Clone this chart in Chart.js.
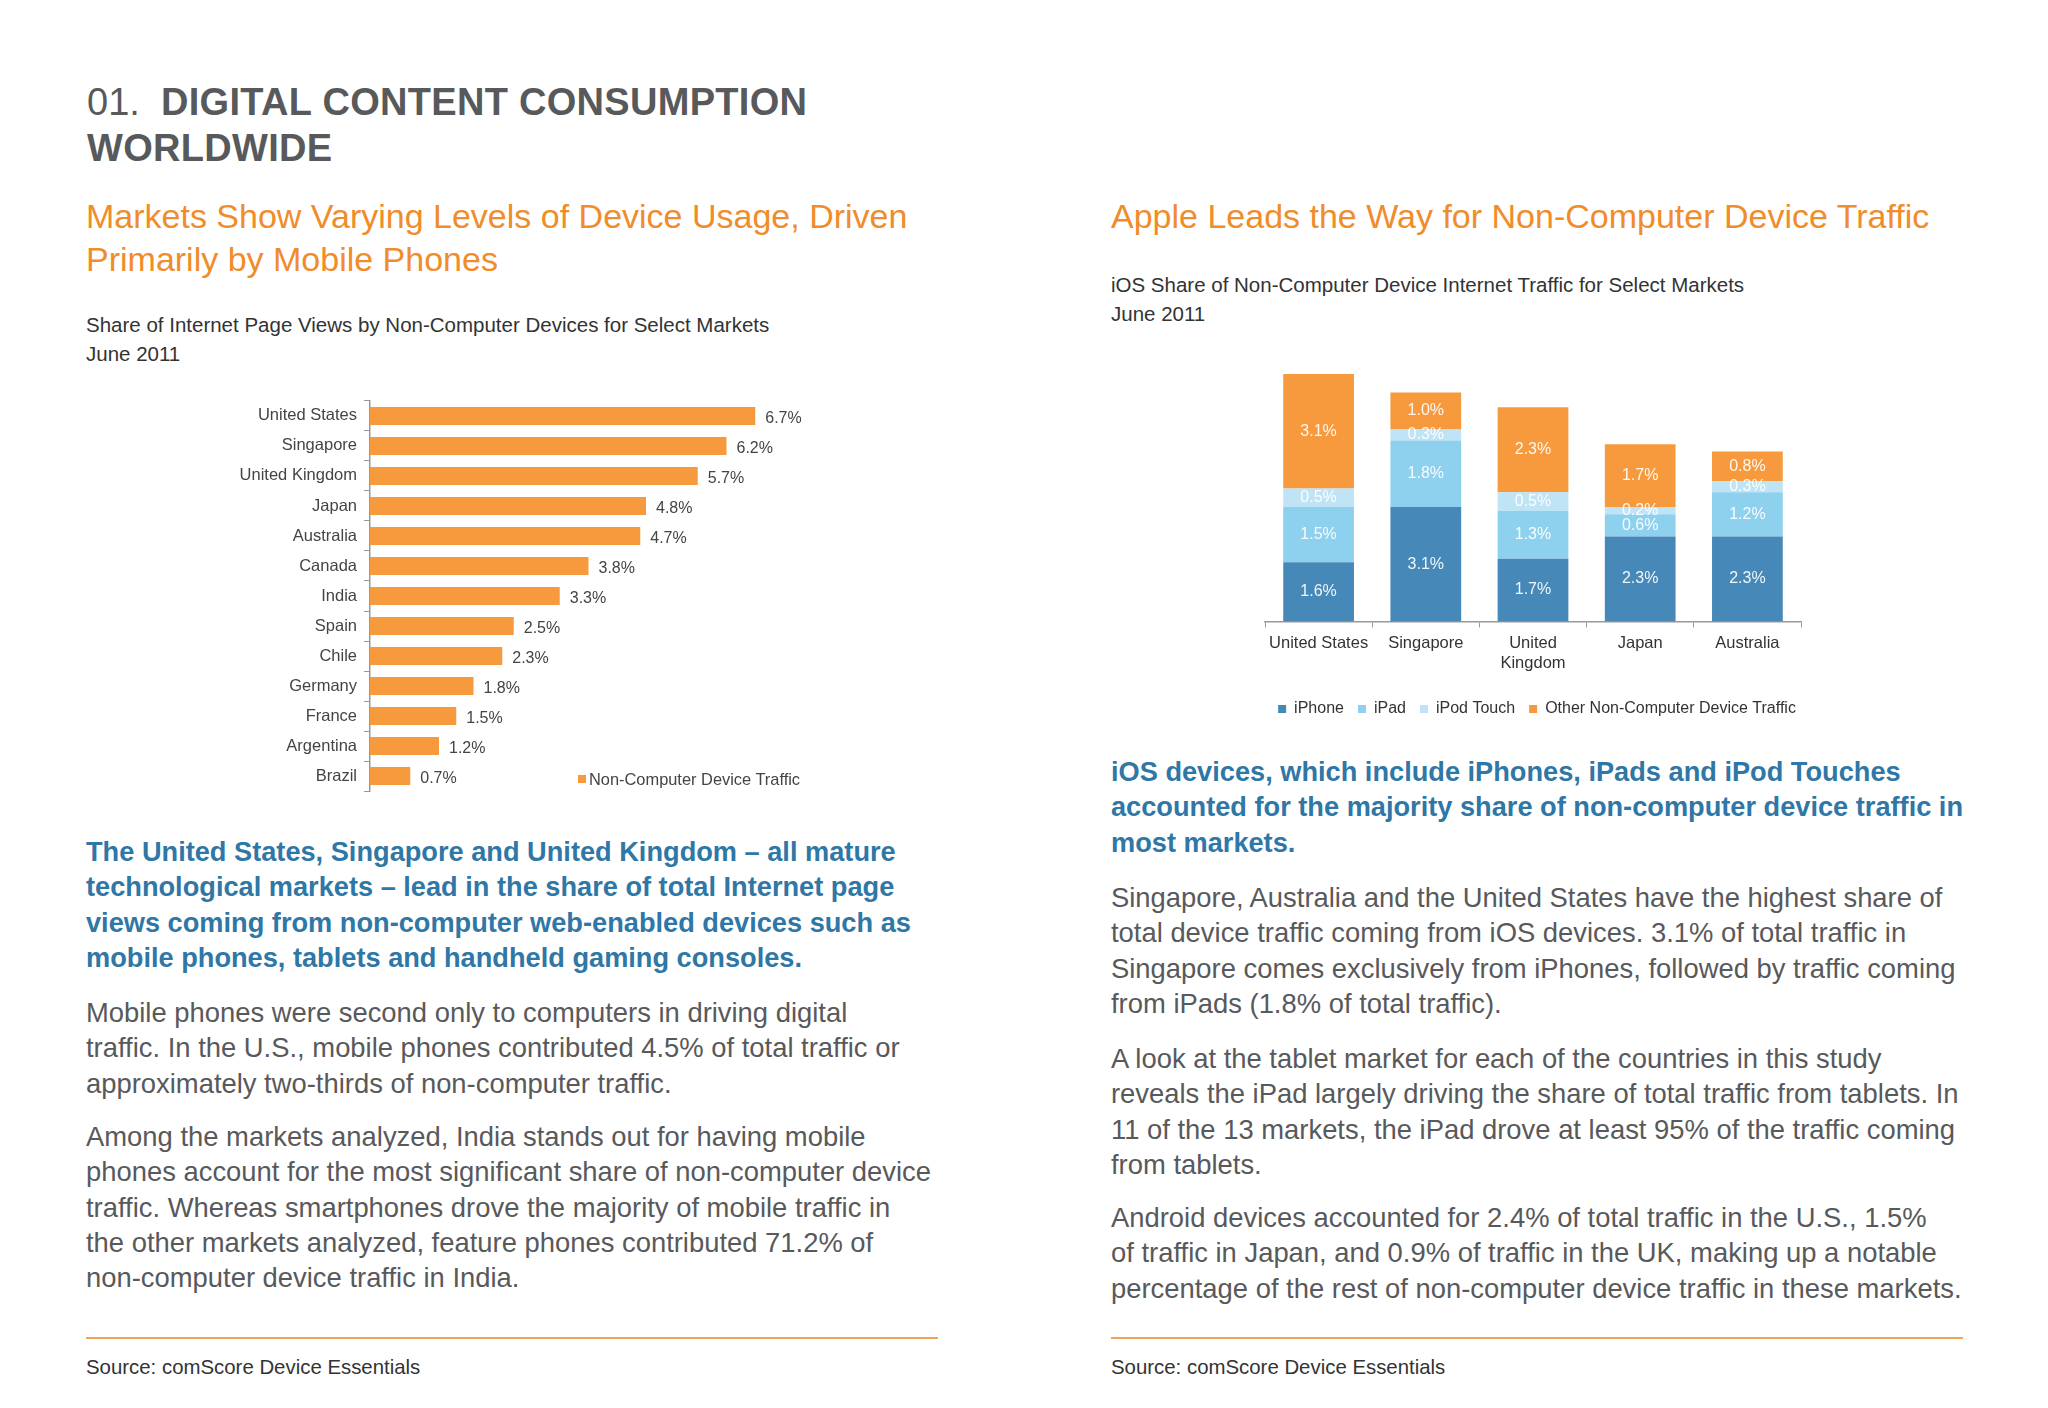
<!DOCTYPE html>
<html>
<head>
<meta charset="utf-8">
<script src="https://cdn.jsdelivr.net/npm/chart.js@4"></script>
<style>
  html, body { margin: 0; padding: 0; background: #fff; }
  body { width: 2048px; height: 1408px; position: relative; overflow: hidden;
         font-family: "Liberation Sans", Arial, sans-serif; }
  .t { position: absolute; white-space: nowrap; }
  .title { left: 87px; top: 79px; font-size: 38px; line-height: 46px; color: #58595b; }
  .title b { letter-spacing: 0.3px; }
  .head { font-size: 34px; line-height: 43px; color: #f08c2a; top: 195px; }
  .ctitle { font-size: 20.5px; line-height: 29px; color: #333; }
  .lead { font-size: 27.2px; line-height: 35.3px; color: #2f77a6; font-weight: bold; }
  .body { font-size: 27.4px; line-height: 35.3px; color: #58595b; }
  .rule { position: absolute; height: 2px; background: #f0a45a; top: 1337px; }
  .src { font-size: 20.4px; line-height: 26px; color: #333; top: 1354px; }
  .box { position: absolute; }
  .legend { position: absolute; left: 578px; top: 770px; font-size: 16.4px; color: #444; white-space: nowrap; }
  .legend i { display: inline-block; width: 8px; height: 8px; background: #f79a3e; margin-right: 3px; vertical-align: 2px; }
</style>
</head>
<body>
<div class="t title">01.&nbsp; <b>DIGITAL CONTENT CONSUMPTION<br>WORLDWIDE</b></div>

<div class="t head" style="left:86px">Markets Show Varying Levels of Device Usage, Driven<br>Primarily by Mobile Phones</div>
<div class="t ctitle" style="left:86px; top:310px">Share of Internet Page Views by Non-Computer Devices for Select Markets<br>June 2011</div>

<div class="box" style="left:217px; top:384px; width:613px; height:424px"><canvas id="barChart"></canvas></div>
<div class="legend"><i></i>Non-Computer Device Traffic</div>

<div class="t lead" style="left:86px; top:834px">The United States, Singapore and United Kingdom – all mature<br>technological markets – lead in the share of total Internet page<br>views coming from non-computer web-enabled devices such as<br>mobile phones, tablets and handheld gaming consoles.</div>
<div class="t body" style="left:86px; top:995px">Mobile phones were second only to computers in driving digital<br>traffic. In the U.S., mobile phones contributed 4.5% of total traffic or<br>approximately two-thirds of non-computer traffic.</div>
<div class="t body" style="left:86px; top:1119px">Among the markets analyzed, India stands out for having mobile<br>phones account for the most significant share of non-computer device<br>traffic. Whereas smartphones drove the majority of mobile traffic in<br>the other markets analyzed, feature phones contributed 71.2% of<br>non-computer device traffic in India.</div>
<div class="rule" style="left:86px; width:852px"></div>
<div class="t src" style="left:86px">Source: comScore Device Essentials</div>

<div class="t head" style="left:1111px">Apple Leads the Way for Non-Computer Device Traffic</div>
<div class="t ctitle" style="left:1111px; top:270px">iOS Share of Non-Computer Device Internet Traffic for Select Markets<br>June 2011</div>

<div class="box" style="left:1237px; top:353px; width:600px; height:374px"><canvas id="stackChart"></canvas></div>

<div class="t lead" style="left:1111px; top:754px">iOS devices, which include iPhones, iPads and iPod Touches<br>accounted for the majority share of non-computer device traffic in<br>most markets.</div>
<div class="t body" style="left:1111px; top:880px">Singapore, Australia and the United States have the highest share of<br>total device traffic coming from iOS devices. 3.1% of total traffic in<br>Singapore comes exclusively from iPhones, followed by traffic coming<br>from iPads (1.8% of total traffic).</div>
<div class="t body" style="left:1111px; top:1041px">A look at the tablet market for each of the countries in this study<br>reveals the iPad largely driving the share of total traffic from tablets. In<br>11 of the 13 markets, the iPad drove at least 95% of the traffic coming<br>from tablets.</div>
<div class="t body" style="left:1111px; top:1200px">Android devices accounted for 2.4% of total traffic in the U.S., 1.5%<br>of traffic in Japan, and 0.9% of traffic in the UK, making up a notable<br>percentage of the rest of non-computer device traffic in these markets.</div>
<div class="rule" style="left:1111px; width:852px"></div>
<div class="t src" style="left:1111px">Source: comScore Device Essentials</div>

<script>
// left chart: share of page views by non-computer devices
var countries = ['United States', 'Singapore', 'United Kingdom', 'Japan', 'Australia', 'Canada',
                 'India', 'Spain', 'Chile', 'Germany', 'France', 'Argentina', 'Brazil'];
var deviceTraffic = [6.7, 6.2, 5.7, 4.8, 4.7, 3.8, 3.3, 2.5, 2.3, 1.8, 1.5, 1.2, 0.7];

// right chart: iOS share, stacked
var markets = ['United States', 'Singapore', ['United', 'Kingdom'], 'Japan', 'Australia'];
var iphone = [1.6, 3.1, 1.7, 2.3, 2.3];
var ipad = [1.5, 1.8, 1.3, 0.6, 1.2];
var ipodTouch = [0.5, 0.3, 0.5, 0.2, 0.3];
var otherTraffic = [3.1, 1.0, 2.3, 1.7, 0.8];

var FONT = '"Liberation Sans", Arial, sans-serif';
Chart.defaults.font.family = FONT;
Chart.defaults.animation = false;
Chart.defaults.responsive = true;
Chart.defaults.maintainAspectRatio = false;

// small label plugin, draws value text from the bar elements
var valueLabels = {
  id: 'valueLabels',
  afterDatasetsDraw: function(chart, args, opts) {
    var ctx = chart.ctx;
    ctx.save();
    ctx.font = opts.size + 'px ' + FONT;
    ctx.fillStyle = opts.color;
    ctx.textBaseline = 'middle';
    chart.data.datasets.forEach(function(ds, i) {
      var meta = chart.getDatasetMeta(i);
      meta.data.forEach(function(bar, j) {
        var txt = ds.data[j].toFixed(1) + '%';
        if (opts.mode === 'end') {
          ctx.textAlign = 'left';
          ctx.fillText(txt, bar.x + 10, bar.y + 3);
        } else {
          ctx.textAlign = 'center';
          ctx.fillText(txt, bar.x, (bar.y + bar.base) / 2);
        }
      });
    });
    ctx.restore();
  }
};

new Chart(document.getElementById('barChart'), {
  type: 'bar',
  data: {
    labels: countries,
    datasets: [{
      label: 'Non-Computer Device Traffic',
      data: deviceTraffic,
      backgroundColor: '#f79a3e',
      barPercentage: 0.6,
      categoryPercentage: 1
    }]
  },
  options: {
    indexAxis: 'y',
    layout: { padding: { top: 7, bottom: 8, right: 0 } },
    plugins: {
      legend: { display: false },
      tooltip: { enabled: false },
      valueLabels: { mode: 'end', size: 16, color: '#444' }
    },
    scales: {
      x: { display: false, min: 0, max: 8 },
      y: {
        afterFit: function(s) { s.width = 153; },
        grid: { drawOnChartArea: false, tickLength: 6, color: '#999', offset: true },
        border: { color: '#999', width: 1.5 },
        ticks: { color: '#444', font: { size: 16.5 }, padding: 7 }
      }
    }
  },
  plugins: [valueLabels]
});

// hidden side axes only reserve room, so the legend keeps the full canvas width
var hiddenAxis = function(pos, w) {
  return {
    type: 'linear', position: pos, display: true,
    ticks: { display: false }, grid: { display: false }, border: { display: false },
    afterFit: function(s) { s.width = w; }
  };
};

var yLeft = hiddenAxis('left', 28);
yLeft.stacked = true;
yLeft.min = 0;
yLeft.max = 7;

new Chart(document.getElementById('stackChart'), {
  type: 'bar',
  data: {
    labels: markets,
    datasets: [
      { label: 'iPhone', data: iphone, backgroundColor: '#4689b8' },
      { label: 'iPad', data: ipad, backgroundColor: '#8ed1ef' },
      { label: 'iPod Touch', data: ipodTouch, backgroundColor: '#bfe4f5' },
      { label: 'Other Non-Computer Device Traffic', data: otherTraffic, backgroundColor: '#f79a3e' }
    ].map(function(d) { d.barPercentage = 0.66; d.categoryPercentage = 1; return d; })
  },
  options: {
    layout: { padding: { left: 0, right: 0, top: 10, bottom: 0 } },
    plugins: {
      legend: {
        position: 'bottom',
        labels: { boxWidth: 8, boxHeight: 8, color: '#333', font: { size: 16 }, padding: 14 }
      },
      tooltip: { enabled: false },
      valueLabels: { mode: 'center', size: 16, color: 'rgba(255,255,255,0.92)' }
    },
    scales: {
      x: {
        stacked: true,
        afterFit: function(s) { s.height += 8; },
        grid: { drawOnChartArea: false, tickLength: 6, color: '#999', offset: true },
        border: { color: '#999', width: 1.5 },
        ticks: { color: '#333', font: { size: 16.5 }, padding: 6, maxRotation: 0 }
      },
      y: yLeft,
      yr: hiddenAxis('right', 36)
    }
  },
  plugins: [valueLabels]
});
</script>
</body>
</html>
